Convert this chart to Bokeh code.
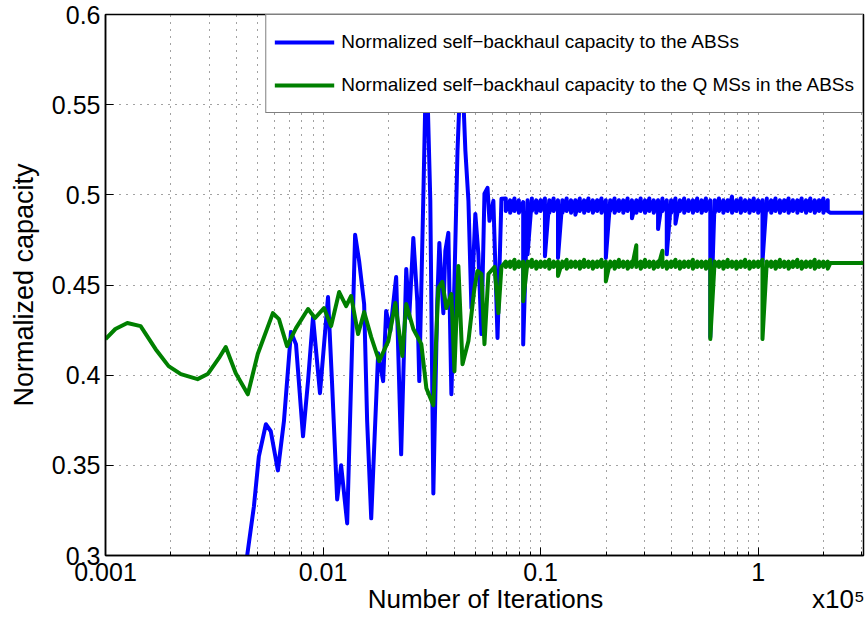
from bokeh.plotting import figure
from bokeh.models import Range1d, FixedTicker, CustomJSTickFormatter, LogAxis
from bokeh.embed import file_html
from bokeh.resources import INLINE

FONT = "Liberation Sans"

# ---------------- data ----------------
# x in units of 1e5 iterations
blue_early_x = [0.00419, 0.00481, 0.00507, 0.00546, 0.00575, 0.0062, 0.00661, 0.00712, 0.00751, 0.00809,
                0.00853, 0.00899, 0.00968, 0.01054, 0.01099, 0.01161, 0.01211, 0.01291, 0.01346, 0.01404,
                0.01465, 0.01545, 0.01595, 0.01665, 0.01738, 0.01792, 0.01889, 0.0195, 0.02037, 0.02168,
                0.02286, 0.02412, 0.02489, 0.026, 0.02712, 0.02769, 0.02888, 0.02985, 0.03112, 0.03214,
                0.0335, 0.03424, 0.03573, 0.03648, 0.03767, 0.0389, 0.04018, 0.0415, 0.04327, 0.04511,
                0.04659, 0.04808, 0.05012, 0.05176, 0.05346, 0.0552, 0.05702, 0.05821, 0.06067, 0.06339,
                0.06607]
blue_early_y = [0.2744, 0.3272, 0.355, 0.3728, 0.3689, 0.3472, 0.3744, 0.4239, 0.4172, 0.3661,
                0.3967, 0.4322, 0.39, 0.4433, 0.3967, 0.3311, 0.35, 0.3178, 0.3967, 0.4778,
                0.4633, 0.4394, 0.3744, 0.3206, 0.3744, 0.4122, 0.3967, 0.4356, 0.4244, 0.4544,
                0.3561, 0.4589, 0.4317, 0.4761, 0.4411, 0.3967, 0.4967, 0.58, 0.4967, 0.3344,
                0.4411, 0.4733, 0.4344, 0.4689, 0.4789, 0.3894, 0.4522, 0.5244, 0.58, 0.5244,
                0.4967, 0.4372, 0.4894, 0.4672, 0.4228, 0.5006, 0.5039, 0.4856, 0.4967, 0.4206,
                0.4978]

green_early_x = [0.001, 0.00111, 0.00126, 0.00145, 0.0017, 0.00195, 0.00222, 0.00265, 0.00295, 0.00332,
                 0.00357, 0.00397, 0.00451, 0.00501, 0.00588, 0.00627, 0.00683, 0.00751, 0.00853, 0.00919,
                 0.0101, 0.01089, 0.01186, 0.01277, 0.01346, 0.01449, 0.01545, 0.01665, 0.01811, 0.01995,
                 0.02149, 0.02314, 0.02412, 0.026, 0.0283, 0.02985, 0.03214, 0.03388, 0.03533, 0.0369,
                 0.0389, 0.04018, 0.04188, 0.04375, 0.04659, 0.04965, 0.05126, 0.05346, 0.0552, 0.05756,
                 0.06138, 0.06402, 0.06607]
green_early_y = [0.42, 0.4256, 0.4289, 0.4272, 0.4144, 0.405, 0.4006, 0.3978, 0.4006, 0.4094,
                 0.4156, 0.4011, 0.3894, 0.4117, 0.4344, 0.4311, 0.4161, 0.4261, 0.4367, 0.4317,
                 0.4372, 0.4272, 0.4461, 0.4383, 0.4439, 0.4228, 0.435, 0.4211, 0.4078, 0.4189,
                 0.44, 0.4106, 0.4394, 0.4256, 0.4172, 0.3928, 0.3833, 0.4483, 0.4517, 0.4372,
                 0.445, 0.4022, 0.4606, 0.4061, 0.4189, 0.4483, 0.4578, 0.4561, 0.4172, 0.4561,
                 0.46, 0.4344, 0.46]

# converged (noisy) phase: shared x positions, upper and lower excursion at each
stable_x = [0.06918, 0.07244, 0.07586, 0.07943, 0.08318, 0.0871, 0.0912, 0.0955, 0.1, 0.1047,
            0.1096, 0.1148, 0.1202, 0.1259, 0.1318, 0.138, 0.1445, 0.1514, 0.1585, 0.166,
            0.1738, 0.182, 0.1905, 0.1995, 0.2089, 0.2188, 0.2291, 0.2399, 0.2512, 0.263,
            0.2754, 0.2884, 0.302, 0.3162, 0.3311, 0.3467, 0.3631, 0.3802, 0.3981, 0.4169,
            0.4365, 0.4571, 0.4786, 0.5012, 0.5248, 0.5495, 0.5754, 0.6026, 0.631, 0.6607,
            0.6918, 0.7244, 0.7586, 0.7943, 0.8318, 0.871, 0.912, 0.955, 1.0, 1.047,
            1.096, 1.148, 1.202, 1.259, 1.318, 1.38, 1.445, 1.514, 1.585, 1.66,
            1.738, 1.82, 1.905, 1.995, 2.089]
blue_hi = [0.498, 0.497, 0.498, 0.497, 0.496, 0.497, 0.498, 0.497, 0.497, 0.498,
           0.497, 0.498, 0.497, 0.497, 0.498, 0.497, 0.497, 0.498, 0.497, 0.498,
           0.497, 0.497, 0.498, 0.497, 0.497, 0.498, 0.497, 0.497, 0.498, 0.497,
           0.497, 0.498, 0.497, 0.498, 0.497, 0.497, 0.498, 0.497, 0.497, 0.498,
           0.497, 0.498, 0.497, 0.497, 0.498, 0.497, 0.498, 0.497, 0.497, 0.498,
           0.497, 0.497, 0.499, 0.497, 0.498, 0.497, 0.497, 0.498, 0.497, 0.497,
           0.498, 0.497, 0.498, 0.497, 0.497, 0.498, 0.497, 0.497, 0.498, 0.497,
           0.498, 0.497, 0.497, 0.498, 0.497]
blue_lo = [0.491, 0.490, 0.491, 0.490, 0.417, 0.467, 0.491, 0.490, 0.491, 0.466,
           0.490, 0.491, 0.465, 0.490, 0.491, 0.490, 0.489, 0.491, 0.490, 0.491,
           0.490, 0.491, 0.490, 0.465, 0.491, 0.490, 0.491, 0.490, 0.491, 0.487,
           0.490, 0.491, 0.490, 0.491, 0.490, 0.481, 0.491, 0.467, 0.490, 0.484,
           0.491, 0.490, 0.491, 0.490, 0.491, 0.490, 0.491, 0.421, 0.490, 0.491,
           0.490, 0.491, 0.490, 0.491, 0.490, 0.491, 0.490, 0.491, 0.490, 0.463,
           0.491, 0.490, 0.491, 0.490, 0.491, 0.490, 0.491, 0.490, 0.491, 0.490,
           0.491, 0.490, 0.491, 0.490, 0.491]
green_hi = [0.463, 0.463, 0.464, 0.463, 0.463, 0.463, 0.464, 0.463, 0.463, 0.463,
            0.464, 0.463, 0.463, 0.463, 0.464, 0.463, 0.463, 0.463, 0.464, 0.463,
            0.463, 0.463, 0.464, 0.463, 0.463, 0.463, 0.464, 0.463, 0.463, 0.463,
            0.472, 0.463, 0.464, 0.463, 0.463, 0.463, 0.469, 0.463, 0.463, 0.464,
            0.463, 0.463, 0.463, 0.464, 0.463, 0.463, 0.463, 0.464, 0.463, 0.463,
            0.463, 0.464, 0.463, 0.463, 0.463, 0.464, 0.463, 0.463, 0.463, 0.464,
            0.463, 0.463, 0.463, 0.464, 0.463, 0.463, 0.463, 0.464, 0.463, 0.463,
            0.463, 0.464, 0.463, 0.463, 0.463]
green_lo = [0.460, 0.460, 0.459, 0.460, 0.441, 0.460, 0.460, 0.459, 0.460, 0.460,
            0.459, 0.460, 0.455, 0.460, 0.459, 0.460, 0.460, 0.459, 0.460, 0.460,
            0.459, 0.460, 0.460, 0.452, 0.460, 0.459, 0.460, 0.460, 0.459, 0.460,
            0.460, 0.459, 0.460, 0.460, 0.459, 0.460, 0.460, 0.459, 0.460, 0.460,
            0.459, 0.460, 0.460, 0.459, 0.460, 0.460, 0.459, 0.420, 0.460, 0.460,
            0.459, 0.460, 0.460, 0.459, 0.460, 0.460, 0.459, 0.460, 0.460, 0.420,
            0.460, 0.460, 0.459, 0.460, 0.460, 0.459, 0.460, 0.460, 0.459, 0.460,
            0.460, 0.459, 0.460, 0.460, 0.459]

# final constant values
tail_x = [2.15, 3.05]
blue_tail_y = [0.490, 0.490]
green_tail_y = [0.4622, 0.4622]

x_ticks = [0.001, 0.01, 0.1, 1]
x_minor = [0.002, 0.003, 0.004, 0.005, 0.006, 0.007, 0.008, 0.009,
           0.02, 0.03, 0.04, 0.05, 0.06, 0.07, 0.08, 0.09,
           0.2, 0.3, 0.4, 0.5, 0.6, 0.7, 0.8, 0.9, 2, 3]
y_ticks = [0.3, 0.35, 0.4, 0.45, 0.5, 0.55, 0.6]

# texts of the lower title row (axis title and the x10^5 scale factor)
x_title_pos = [0.0558, 2.34]
x_title_text = ["Number of Iterations", "x10\u2075"]
y_title = "Normalized capacity"

blue_label = "Normalized self\u2212backhaul capacity to the ABSs"
green_label = "Normalized self\u2212backhaul capacity to the Q MSs in the ABSs"

# assemble the polylines (stable phase: upper then lower excursion at each x)
stable_xx = [x for x in stable_x for _ in range(2)]
blue_stable = [v for pair in zip(blue_hi, blue_lo) for v in pair]
green_stable = [v for pair in zip(green_hi, green_lo) for v in pair]

blue_x = blue_early_x + stable_xx + tail_x
blue_y = blue_early_y + blue_stable + blue_tail_y
green_x = green_early_x + stable_xx + tail_x
green_y = green_early_y + green_stable + green_tail_y

# ---------------- figure ----------------
p = figure(width=868, height=619, x_axis_type="log",
           x_range=Range1d(0.001, 3.05), y_range=Range1d(0.3, 0.6),
           output_backend="svg", toolbar_location=None,
           min_border_left=105, min_border_right=5, min_border_top=14, min_border_bottom=64,
           background_fill_color="white", border_fill_color="white")

p.line(blue_x, blue_y, line_color="#0000ff", line_width=4, line_join="round",
       legend_label=blue_label)
p.line(green_x, green_y, line_color="#008000", line_width=4, line_join="round",
       legend_label=green_label)

xt = FixedTicker(ticks=x_ticks, minor_ticks=x_minor)
p.xaxis.ticker = xt
p.xaxis.formatter = CustomJSTickFormatter(code="return String(tick);")
p.yaxis.ticker = FixedTicker(ticks=y_ticks)
p.yaxis.formatter = CustomJSTickFormatter(code="return tick.toFixed(2).replace(/0$/, '');")

for ax in (p.xaxis[0], p.yaxis[0]):
    ax.major_label_text_font = FONT
    ax.major_label_text_font_size = "25px"
    ax.major_label_text_color = "black"
    ax.axis_label_text_font = FONT
    ax.axis_label_text_font_size = "27px"
    ax.axis_label_text_font_style = "normal"
    ax.axis_label_text_color = "black"
    ax.axis_line_color = "black"
    ax.axis_line_width = 1.5
    ax.major_tick_in = 8
    ax.major_tick_out = 0
    ax.minor_tick_in = 4
    ax.minor_tick_out = 0
    ax.major_tick_line_color = "black"
    ax.minor_tick_line_color = "black"

p.xaxis.major_label_standoff = 7
p.yaxis.axis_label = y_title
p.yaxis.major_label_standoff = 5
p.yaxis.axis_label_standoff = 10

# second row under the x axis: axis title and scale factor
title_axis = LogAxis(ticker=FixedTicker(ticks=x_title_pos, minor_ticks=[]),
                     formatter=CustomJSTickFormatter(
                         args=dict(pos=x_title_pos, txt=x_title_text),
                         code="""
let best = 0, bd = Infinity;
for (let k = 0; k < pos.length; k++) {
  const d = Math.abs(Math.log(pos[k]) - Math.log(tick));
  if (d < bd) { bd = d; best = k; }
}
return bd < 0.01 ? txt[best] : '';
"""))
title_axis.axis_line_color = None
title_axis.major_tick_line_color = None
title_axis.minor_tick_line_color = None
title_axis.major_tick_in = 0
title_axis.major_tick_out = 0
title_axis.major_label_standoff = 0
title_axis.major_label_text_font = FONT
title_axis.major_label_text_font_size = "26px"
title_axis.major_label_text_color = "black"
p.add_layout(title_axis, "below")

p.xgrid.ticker = xt
p.xgrid.grid_line_color = "#444444"
p.xgrid.grid_line_dash = "1 6"
p.xgrid.grid_line_width = 1
p.xgrid.minor_grid_line_color = "#444444"
p.xgrid.minor_grid_line_dash = "1 6"
p.ygrid.grid_line_color = "#444444"
p.ygrid.grid_line_dash = "1 6"

p.outline_line_color = "black"
p.outline_line_width = 1.5

lg = p.legend[0]
lg.location = "top_right"
lg.margin = 0
lg.padding = 8
lg.spacing = 5
lg.glyph_width = 60
lg.glyph_height = 38
lg.label_standoff = 7
lg.label_text_font = FONT
lg.label_text_font_size = "19px"
lg.label_text_color = "black"
lg.border_line_color = "black"
lg.border_line_width = 1.5
lg.background_fill_color = "white"
lg.background_fill_alpha = 1.0

open("out.html", "w").write(file_html(p, INLINE))
